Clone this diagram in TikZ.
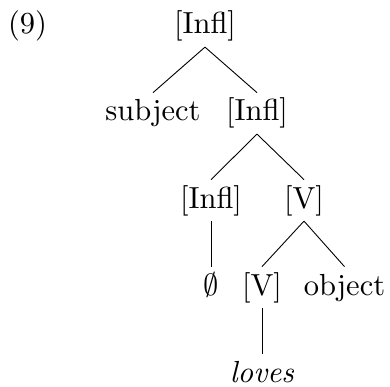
\documentclass[tikz,border=0pt]{standalone}
\begin{document}
\begin{tikzpicture}[x=1pt,y=-1pt,
  lab/.style={anchor=base,scale=3.05,inner sep=1.6pt,text height=7.5pt,text depth=2.5pt},
  br/.style={line width=0.9pt}]
\useasboundingbox (0,0) rectangle (390,387);
\node[lab] (nine) at (27.5,34) {(9)};
\node[lab] (i1) at (205,34) {[Infl]};
\node[lab] (subj) at (153,121) {subject};
\node[lab] (i2) at (257,121) {[Infl]};
\node[lab] (i3) at (211,208) {[Infl]};
\node[lab] (v1) at (304,208) {[V]};
\node[lab] (nul) at (211,295) {$\emptyset$};
\node[lab] (v2) at (262,295) {[V]};
\node[lab] (obj) at (344.5,295) {object};
\node[lab] (lov) at (262,382) {\textit{loves}};
\draw[br] (i1.south) -- (subj.north);
\draw[br] (i1.south) -- (i2.north);
\draw[br] (i2.south) -- (i3.north);
\draw[br] (i2.south) -- (v1.north);
\draw[br] (i3.south) -- (nul.north);
\draw[br] (v1.south) -- (v2.north);
\draw[br] (v1.south) -- (obj.north);
\draw[br] (v2.south) -- (lov.north);
\end{tikzpicture}
\end{document}
